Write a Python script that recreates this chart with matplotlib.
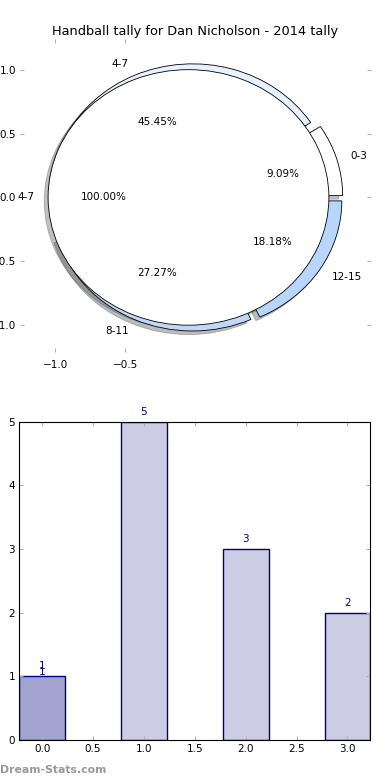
#!/usr/bin/env python3
import matplotlib
matplotlib.use('Agg')

import matplotlib.pyplot as plt

TITLE = 'Handball tally for Dan Nicholson - 2014 tally'

# pie data
ranges = ['0-3', '4-7', '8-11', '12-15']
counts = [1, 5, 3, 2]
pie_colors = ['white', '#e8f1ff', '#c0d8f8', '#b8d6fc']
top_label = ['4-7']
top_count = [11]

# bar data
bar_pos = [0, 1, 2, 3]
bar_vals = [1, 5, 3, 2]

FS = 7.5
TICK_GRAY = '#b0b0b0'


def style_ticks(ax):
    ax.tick_params(direction='in', length=3, color=TICK_GRAY,
                   labelsize=FS, top=True, right=True, pad=3)


def main():
    fig = plt.figure(figsize=(3.9, 7.8), dpi=100)

    # --- pie (two pies drawn on top of each other, as in the original) ---
    ax1 = fig.add_axes([0.0513, 0.5487, 0.9, 0.4013])
    wedge = dict(edgecolor='black', linewidth=0.6)
    shade = {'ox': -0.02, 'oy': -0.02, 'alpha': 0.35}
    ax1.pie(counts, labels=ranges, colors=pie_colors, explode=[0.05]*4,
            autopct='%.2f%%', shadow=shade, wedgeprops=wedge,
            textprops=dict(fontsize=FS))
    ax1.pie(top_count, labels=top_label, colors=['white'], explode=[0.05],
            autopct='%.2f%%', shadow=shade, wedgeprops=wedge,
            textprops=dict(fontsize=FS))
    ax1.set_aspect('auto')
    ax1.set_xlim(-1.25, 1.25)
    ax1.set_ylim(-1.21, 1.24)
    ax1.set_frame_on(True)
    for sp in ax1.spines.values():
        sp.set_visible(False)
    ax1.set_xticks([-1.0, -0.5])
    ax1.set_yticks([-1.0, -0.5, 0.0, 0.5, 1.0])
    ax1.set_xticklabels(['\u22121.0', '\u22120.5'])
    ax1.set_yticklabels(['\u22121.0', '\u22120.5', '0.0', '0.5', '1.0'])
    style_ticks(ax1)
    ax1.tick_params(axis='x', pad=6)
    ax1.set_title(TITLE, fontsize=9.3, pad=3)

    # --- bars ---
    ax2 = fig.add_axes([0.0495, 0.0513, 0.9, 0.408])
    ax2.bar(bar_pos, bar_vals, width=0.45, color='navy', alpha=0.2)
    ax2.bar(bar_pos, bar_vals, width=0.45, facecolor='none',
            edgecolor='navy', linewidth=1)
    # first bar is drawn twice in the original
    ax2.bar(bar_pos[:1], bar_vals[:1], width=0.45, color='navy', alpha=0.2)
    for x, v in zip(bar_pos, bar_vals):
        ax2.annotate(str(v), (x, v), xytext=(0, 5), textcoords='offset pixels',
                     ha='center', va='bottom', color='navy', fontsize=FS)
    ax2.annotate(str(bar_vals[0]), (bar_pos[0], bar_vals[0]), xytext=(0, -1),
                 textcoords='offset pixels', ha='center', va='bottom',
                 color='navy', fontsize=FS)
    ax2.set_xlim(-0.225, 3.225)
    ax2.set_ylim(0, 5)
    ax2.set_xticks([0, 0.5, 1, 1.5, 2, 2.5, 3])
    ax2.set_yticks([0, 1, 2, 3, 4, 5])
    ax2.set_xticklabels(['0.0', '0.5', '1.0', '1.5', '2.0', '2.5', '3.0'])
    style_ticks(ax2)

    fig.text(0.0, 0.0065, 'Dream-Stats.com', color='#999999', fontsize=7.8,
             fontweight='bold', ha='left', va='bottom')

    fig.savefig('out.png', dpi=100)


if __name__ == '__main__':
    main()
